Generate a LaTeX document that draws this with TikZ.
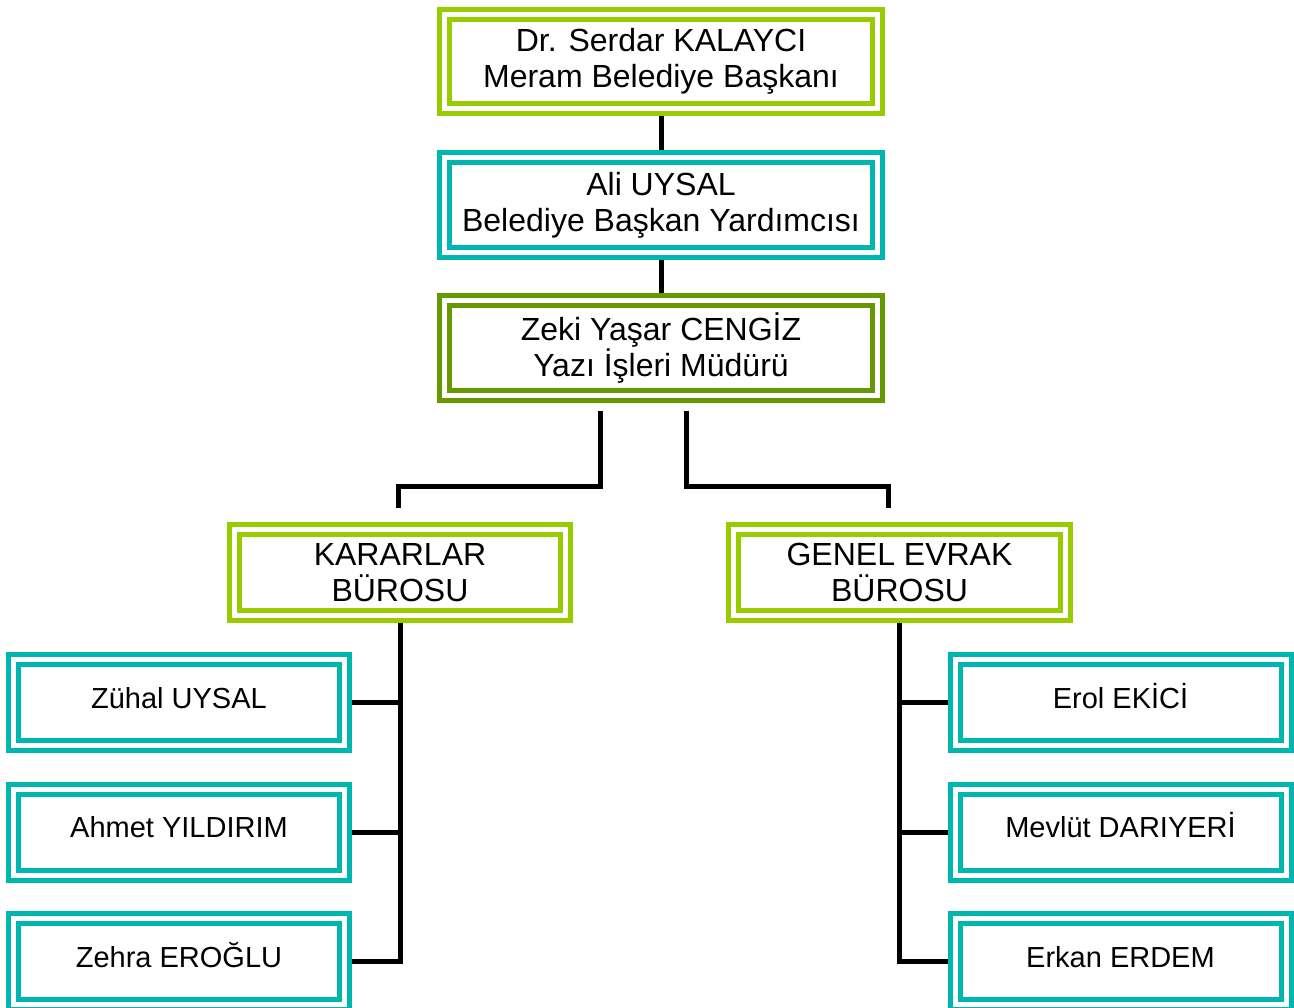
\documentclass[tikz,border=0pt]{standalone}
\usepackage{fontspec}
\setmainfont{Liberation Sans}
\usetikzlibrary{backgrounds,calc}
\definecolor{lime}{RGB}{153,204,0}
\definecolor{teal}{RGB}{0,183,175}
\definecolor{olive}{RGB}{102,153,0}
\tikzset{
  box/.style={draw=#1, line width=5pt, double=white, double distance=5pt,
    fill=white, inner sep=0pt, align=center, text=black},
  bigbox/.style={box=#1, minimum width=433pt, minimum height=95pt,
    font=\fontsize{32}{36}\selectfont},
  midbox/.style={box=#1, minimum width=331pt, minimum height=86pt,
    font=\fontsize{32}{36}\selectfont},
  staff/.style={box=teal, minimum width=331pt, minimum height=86pt,
    font=\fontsize{29}{36}\selectfont, text height=22pt, text depth=11pt},
  link/.style={line width=5pt, black, line join=miter},
}
\begin{document}
\begin{tikzpicture}[x=1pt,y=-1pt]
\useasboundingbox (0,0) rectangle (1294,1008);

% management chain
\node[bigbox=lime, minimum height=94pt] (mayor) at (661,61.5) {Dr. Serdar KALAYCI\\Meram Belediye Başkanı};
\node[bigbox=teal] (deputy) at (661,205) {Ali UYSAL\\Belediye Başkan Yardımcısı};
\node[bigbox=olive] (director) at (661,348) {Zeki Yaşar CENGİZ\\Yazı İşleri Müdürü};

% offices
\node[midbox=lime] (karar) at (400,572.5) {KARARLAR\\BÜROSU};
\node[midbox=lime, minimum width=332pt] (evrak) at (899.5,572.5) {GENEL EVRAK\\BÜROSU};

% staff
\node[staff] (s1) at (179,702.5) {Zühal UYSAL};
\node[staff] (s2) at (179,832) {Ahmet YILDIRIM};
\node[staff] (s3) at (179,961.5) {Zehra EROĞLU};
\node[staff] (s4) at (1120.5,702.5) {Erol EKİCİ};
\node[staff] (s5) at (1120.5,832) {Mevlüt DARIYERİ};
\node[staff] (s6) at (1120.5,961.5) {Erkan ERDEM};

% free ends of the two branch lines below the director
\coordinate (lb) at ($(director.south)+(-61,13.5)$);
\coordinate (le) at ($(karar.north)+(-2,-19.5)$);
\coordinate (rb) at ($(director.south)+(25,13.5)$);
\coordinate (re) at ($(evrak.north)+(-11.5,-19.5)$);

\begin{scope}[on background layer]
  \draw[link] (mayor.south) -- (deputy.north);
  \draw[link] (deputy.south) -- (director.north);
  \draw[link] (lb) |- ($(le)+(0,-21)$) -- (le);
  \draw[link] (rb) |- ($(re)+(0,-21)$) -- (re);
  \draw[link] (karar.south) |- (s3.east);
  \draw[link] (s1.east) -- (s1.east -| karar.south);
  \draw[link] (s2.east) -- (s2.east -| karar.south);
  \draw[link] (evrak.south) |- (s6.west);
  \draw[link] (s4.west) -- (s4.west -| evrak.south);
  \draw[link] (s5.west) -- (s5.west -| evrak.south);
\end{scope}
\end{tikzpicture}
\end{document}
